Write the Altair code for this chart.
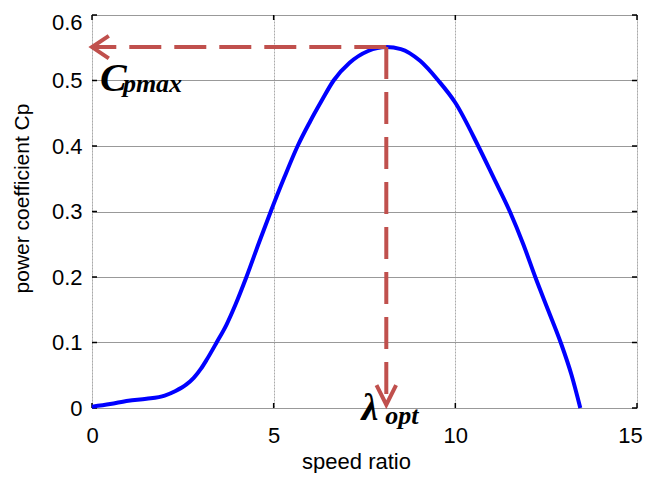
import altair as alt
import pandas as pd

# Curve
speed_ratio = [0.0, 0.5, 1.0, 1.5, 2.0, 2.3, 2.6, 2.8, 3.0, 3.16, 3.43, 3.7, 3.95, 4.25, 4.6, 4.92,
               5.3, 5.66, 6.0, 6.3, 6.65, 7.09, 7.6, 8.1, 8.5, 9.03, 9.53, 10.0, 10.63,
               11.05, 11.5, 11.87, 12.2, 12.55, 12.9, 13.2, 13.44]
cp = [0.002, 0.006, 0.011, 0.014, 0.019, 0.026, 0.036, 0.046, 0.06, 0.074, 0.1, 0.127, 0.158,
      0.2, 0.253, 0.3, 0.353, 0.4, 0.437, 0.467, 0.5, 0.527, 0.545, 0.551, 0.548, 0.53, 0.5,
      0.466, 0.4, 0.352, 0.3, 0.25, 0.2, 0.15, 0.1, 0.05, 0.0]

# Optimum point
lambda_opt = [8.1]
cp_max = [0.551]
arrow_tip_y = [0.005]

x_ticks = [0, 5, 10, 15]
y_ticks = [0, 0.1, 0.2, 0.3, 0.4, 0.5, 0.6]

# Annotation texts
ann_text = ["C", "pmax", "λ", "opt"]
ann_x = [0.22, 0.85, 7.42, 8.07]
ann_y = [0.484, 0.482, -0.018, -0.025]
ann_size = [40, 26, 38, 26]

W, H = 545, 393
RED = "#C0504D"

curve_df = pd.DataFrame({"x": speed_ratio, "y": cp})
opt_df = pd.DataFrame({"x": lambda_opt, "x0": [0.0], "y": cp_max, "y0": arrow_tip_y})
ann_df = pd.DataFrame({"t": ann_text, "x": ann_x, "y": ann_y, "s": ann_size})
xt_df = pd.DataFrame({"v": x_ticks})
yt_df = pd.DataFrame({"v": y_ticks})

xscale = alt.Scale(domain=[0, 15], nice=False, zero=False)
yscale = alt.Scale(domain=[0, 0.6], nice=False, zero=False)

xaxis = alt.Axis(values=x_ticks, title="speed ratio", grid=True, gridColor="#aaaaaa",
                 gridDash=[2, 1], gridWidth=1, domain=False, ticks=False,
                 labelFont="Liberation Sans", labelFontSize=22, labelColor="black",
                 labelPadding=17, labelFlush=False,
                 labelOffset={"condition": {"test": "datum.value >= 14.9", "value": -7}, "value": 0},
                 titleFont="Liberation Sans", titleFontSize=22, titleFontWeight="normal",
                 titleColor="black", titleX=264, titleY=60, titleAlign="center",
                 titleBaseline="alphabetic")
yaxis = alt.Axis(values=y_ticks, title="power coefficient Cp", grid=True, gridColor="#999999",
                 gridWidth=1.2, domain=False, ticks=False, format="~g",
                 labelFont="Liberation Sans", labelFontSize=22, labelColor="black",
                 labelPadding=10, labelFlush=False,
                 labelOffset={"condition": {"test": "datum.value >= 0.59", "value": 7}, "value": 0},
                 titleFont="Liberation Sans", titleFontSize=21, titleFontWeight="normal",
                 titleColor="black", titleX=-64, titleY=183, titleAlign="center",
                 titleBaseline="alphabetic", titleAngle=270)

curve = alt.Chart(curve_df).mark_line(color="#0000FF", strokeWidth=4, interpolate="monotone").encode(
    x=alt.X("x:Q", scale=xscale, axis=xaxis),
    y=alt.Y("y:Q", scale=yscale, axis=yaxis),
)

hline = alt.Chart(opt_df).mark_rule(color=RED, strokeWidth=4, strokeDash=[32, 13]).encode(
    x=alt.X("x:Q", scale=xscale), x2="x0:Q", y=alt.Y("y:Q", scale=yscale)
)
vline = alt.Chart(opt_df).mark_rule(color=RED, strokeWidth=4, strokeDash=[32, 13]).encode(
    x=alt.X("x:Q", scale=xscale), y=alt.Y("y:Q", scale=yscale), y2="y0:Q"
)
left_head = alt.Chart(opt_df).mark_point(
    shape="M1.2,-0.8L0,0L1.2,0.8", size=784, filled=False, stroke=RED, strokeWidth=4, opacity=1
).encode(x=alt.X("x0:Q", scale=xscale), y=alt.Y("y:Q", scale=yscale))
down_head = alt.Chart(opt_df).mark_point(
    shape="M-0.7,-1.4L0,0L0.7,-1.4", size=784, filled=False, stroke=RED, strokeWidth=4, opacity=1
).encode(x=alt.X("x:Q", scale=xscale), y=alt.Y("y0:Q", scale=yscale))

ann = alt.Chart(ann_df).mark_text(
    font="Liberation Serif", fontStyle="italic", fontWeight="bold", color="black",
    align="left", baseline="alphabetic"
).encode(
    x=alt.X("x:Q", scale=xscale), y=alt.Y("y:Q", scale=yscale),
    text="t:N", size=alt.Size("s:Q", scale=None, legend=None)
)

# inward ticks on all four sides
tick_style = dict(color="black", strokeWidth=1.5)
xt_bottom = alt.Chart(xt_df).mark_rule(**tick_style).encode(
    x=alt.X("v:Q", scale=xscale), y=alt.value(H), y2=alt.value(H - 5))
xt_top = alt.Chart(xt_df).mark_rule(**tick_style).encode(
    x=alt.X("v:Q", scale=xscale), y=alt.value(0), y2=alt.value(5))
yt_left = alt.Chart(yt_df).mark_rule(**tick_style).encode(
    y=alt.Y("v:Q", scale=yscale), x=alt.value(0), x2=alt.value(5))
yt_right = alt.Chart(yt_df).mark_rule(**tick_style).encode(
    y=alt.Y("v:Q", scale=yscale), x=alt.value(W), x2=alt.value(W - 5))

chart = alt.layer(
    xt_bottom, xt_top, yt_left, yt_right, curve, hline, vline, left_head, down_head, ann
).properties(
    width=W, height=H,
    autosize=alt.AutoSizeParams(type="none"),
    padding={"left": 84, "top": 7, "right": 7, "bottom": 65},
).configure_view(stroke="black", strokeWidth=2).configure(background="white")

chart.save("out.html", embed_options={"renderer": "svg", "actions": False})
